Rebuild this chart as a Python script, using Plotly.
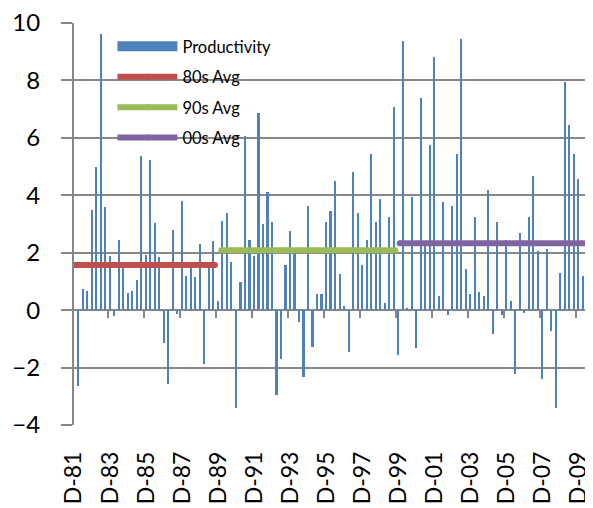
import plotly.graph_objects as go

# Quarterly productivity growth, Dec-81 onwards
productivity = [
    -4.10, -2.63, 0.74, 0.65, 3.50, 5.00, 9.62, 3.58, 1.90, -0.20,
    2.45, 1.68, 0.58, 0.65, 1.04, 5.38, 1.92, 5.23, 3.02, 1.85,
    -1.15, -2.58, 2.79, -0.12, 3.80, 1.20, 1.50, 1.15, 2.30, -1.87,
    1.60, 2.40, 0.33, 3.10, 3.40, 1.66, -3.42, 0.97, 6.07, 2.45,
    1.90, 6.85, 3.00, 4.10, 3.07, -2.95, -1.70, 1.58, 2.76, 2.00,
    -0.43, -2.32, 3.62, -1.30, 0.56, 0.56, 3.06, 3.46, 4.49, 1.25,
    0.15, -1.47, 4.80, 3.37, 1.58, 2.43, 5.44, 3.07, 3.87, 0.24,
    3.23, 7.09, -1.55, 9.38, 0.08, 3.95, -1.31, 7.40, 2.25, 5.76,
    8.81, 0.48, 3.78, -0.18, 3.64, 5.45, 9.44, 1.44, 0.57, 3.24,
    0.64, 0.49, 4.18, -0.82, 3.08, -0.18, 2.43, 0.33, -2.23, 2.70,
    -0.11, 3.24, 4.66, 2.06, -2.39, 2.13, -0.74, -3.42, 1.28, 7.96,
    6.46, 5.45, 4.57, 1.20, 2.07, 2.13,
]

# Decade averages and the quarter-index span each one covers
avg_names = ["80s Avg", "90s Avg", "00s Avg"]
avg_values = [1.57, 2.09, 2.33]
avg_from_q = [0.0, 32.7, 72.3]
avg_to_q = [31.3, 71.3, 117.0]
avg_colors = ["#C0504D", "#9BBB59", "#8064A2"]

tick_labels = ["D-81", "D-83", "D-85", "D-87", "D-89", "D-91", "D-93", "D-95",
               "D-97", "D-99", "D-01", "D-03", "D-05", "D-07", "D-09"]

# quarter labels: month initial + 2-digit year, starting Dec-81
months = ["M", "J", "S", "D"]
quarters = []
for i in range(len(productivity)):
    k = 3 + i
    year = 81 + k // 4
    quarters.append(f"{months[k % 4]}-{year % 100:02d}")
xq = list(range(len(productivity)))

tickvals = [quarters.index(t) for t in tick_labels]
boundaries = [v - 0.5 for v in tickvals if v > 0]

GRID = "#878787"
FONT = "Lato"
BLUE = "#4F81BD"
BAR_W = 0.36
# the first bar sits on the value axis and is hidden behind it in the original
bar_offset = [-BAR_W] + [-BAR_W / 2] * (len(productivity) - 1)

fig = go.Figure()
fig.add_trace(go.Bar(x=xq, y=productivity, width=BAR_W, offset=bar_offset,
                     marker=dict(color=BLUE, line=dict(width=0)),
                     showlegend=False, hoverinfo="skip"))
# legend proxy for bars
fig.add_trace(go.Scatter(x=[None], y=[None], mode="lines", name="Productivity",
                         line=dict(color=BLUE, width=12), legendgroup="p"))
for name, v, a, b, c in zip(avg_names, avg_values, avg_from_q, avg_to_q, avg_colors):
    fig.add_trace(go.Scatter(x=[a, b], y=[v, v], mode="lines+markers", name=name,
                             line=dict(color=c, width=6), marker=dict(color=c, size=6),
                             legendgroup=name, hoverinfo="skip"))
# invisible trace carrying the zero-line tick marks axis
fig.add_trace(go.Scatter(x=[None], y=[None], xaxis="x2", showlegend=False, hoverinfo="skip"))

# page body has an 8px margin, so the figure is sized to end at the window edge
fig.update_layout(
    width=585, height=500,
    margin=dict(l=66, r=0, t=15, b=83, autoexpand=False),
    paper_bgcolor="white", plot_bgcolor="white",
    font=dict(family=FONT, color="black"),
    bargap=0,
    xaxis=dict(range=[0, 115.2], tickmode="array", tickvals=tickvals, ticktext=tick_labels,
               tickangle=-90, ticks="", showgrid=False, zeroline=False, showline=False,
               tickfont=dict(size=23, family=FONT), ticklabelstandoff=21, automargin=False,
               ticklabeloverflow="allow"),
    xaxis2=dict(matches="x", overlaying="x", anchor="free", position=4 / 14, side="bottom",
                tickmode="array", tickvals=boundaries, ticks="outside", ticklen=7, tickwidth=2,
                tickcolor=GRID, showticklabels=False, showgrid=False, zeroline=False, showline=False,
                automargin=False),
    yaxis=dict(range=[-4, 10], dtick=2, showgrid=True, gridcolor=GRID, gridwidth=2,
               zeroline=True, zerolinecolor=GRID, zerolinewidth=2,
               showline=True, linecolor=GRID, linewidth=2,
               ticks="outside", ticklen=11, tickwidth=2, tickcolor=GRID,
               tickfont=dict(size=24, family=FONT), ticklabelstandoff=16, automargin=False,
               ticklabeloverflow="allow"),
    legend=dict(x=0.074, y=0.985, xanchor="left", yanchor="top", bgcolor="rgba(0,0,0,0)",
                font=dict(size=16.5, family=FONT, color="black"), itemwidth=60,
                traceorder="grouped", tracegroupgap=6),
)

fig.write_html("out.html")
